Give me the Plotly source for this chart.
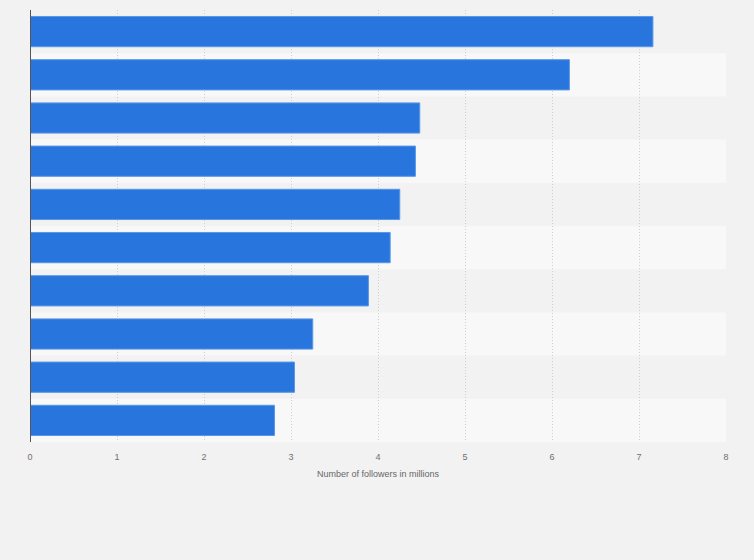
import plotly.graph_objects as go

# Ranks (category names are not shown on the chart)
ranks = ["1", "2", "3", "4", "5", "6", "7", "8", "9", "10"]
followers = [7.16, 6.20, 4.48, 4.43, 4.25, 4.14, 3.89, 3.25, 3.04, 2.81]
x_ticks = [0, 1, 2, 3, 4, 5, 6, 7, 8]

fig = go.Figure(
    go.Bar(
        x=followers,
        y=ranks,
        orientation="h",
        width=0.7,
        marker=dict(color="#2876dd", line=dict(color="#5a97e8", width=1)),
        hoverinfo="x",
    )
)

# Alternating row bands (lighter on even rows from the top)
shapes = []
for i, r in enumerate(ranks):
    if i % 2 == 1:
        shapes.append(dict(
            type="rect", xref="paper", yref="y",
            x0=0, x1=1, y0=i - 0.5, y1=i + 0.5,
            fillcolor="#f8f8f8", line=dict(width=0), layer="below",
        ))

fig.update_layout(
    width=754,
    height=560,
    paper_bgcolor="#f2f2f2",
    plot_bgcolor="#f2f2f2",
    margin=dict(l=30, r=28, t=10, b=118),
    shapes=shapes,
    showlegend=False,
    bargap=0.3,
    font=dict(family="Liberation Sans, Arial, sans-serif", color="#666666"),
    xaxis=dict(
        range=[0, 8],
        tickvals=x_ticks,
        showgrid=True,
        gridcolor="#cfcfcf",
        griddash="1px,2px",
        gridwidth=1,
        zeroline=False,
        showline=False,
        tickfont=dict(size=9, color="#707070"),
        ticks="",
        ticklabelstandoff=8,
        title=dict(text="Number of followers in millions", font=dict(size=9, color="#666666"), standoff=9),
    ),
    yaxis=dict(
        categoryorder="array",
        categoryarray=ranks,
        autorange="reversed",
        showticklabels=False,
        showgrid=False,
        zeroline=False,
        showline=False,
        range=[9.5, -0.5],
    ),
)

# Dark baseline at x = 0
fig.add_shape(type="line", xref="x", yref="paper", x0=0, x1=0, y0=0, y1=1,
              line=dict(color="#555555", width=2))

fig.write_html("out.html", config={"displayModeBar": False},
               post_script="document.body.style.margin='0';")
